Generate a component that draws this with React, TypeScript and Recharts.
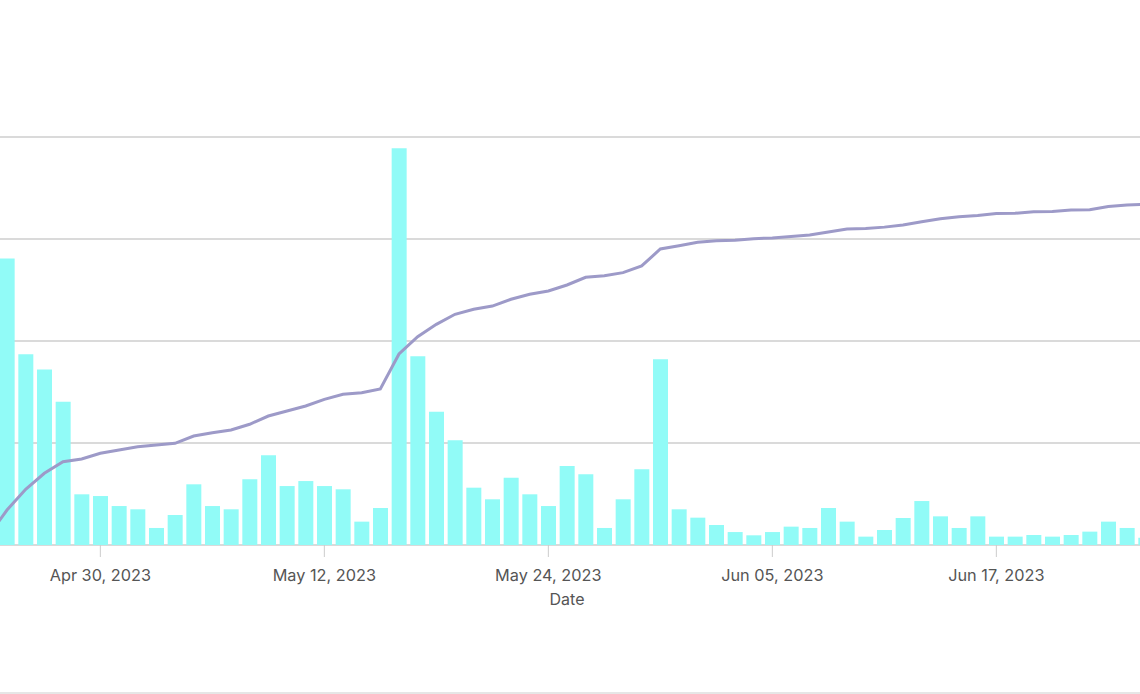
import React from "react";
import { ComposedChart, Bar, Line, XAxis, YAxis, CartesianGrid } from "recharts";

const dates: string[] = [
  "Apr 24, 2023", "Apr 25, 2023", "Apr 26, 2023", "Apr 27, 2023", "Apr 28, 2023", "Apr 29, 2023", "Apr 30, 2023",
  "May 01, 2023", "May 02, 2023", "May 03, 2023", "May 04, 2023", "May 05, 2023", "May 06, 2023", "May 07, 2023",
  "May 08, 2023", "May 09, 2023", "May 10, 2023", "May 11, 2023", "May 12, 2023", "May 13, 2023", "May 14, 2023",
  "May 15, 2023", "May 16, 2023", "May 17, 2023", "May 18, 2023", "May 19, 2023", "May 20, 2023", "May 21, 2023",
  "May 22, 2023", "May 23, 2023", "May 24, 2023", "May 25, 2023", "May 26, 2023", "May 27, 2023", "May 28, 2023",
  "May 29, 2023", "May 30, 2023", "May 31, 2023",
  "Jun 01, 2023", "Jun 02, 2023", "Jun 03, 2023", "Jun 04, 2023", "Jun 05, 2023", "Jun 06, 2023", "Jun 07, 2023",
  "Jun 08, 2023", "Jun 09, 2023", "Jun 10, 2023", "Jun 11, 2023", "Jun 12, 2023", "Jun 13, 2023", "Jun 14, 2023",
  "Jun 15, 2023", "Jun 16, 2023", "Jun 17, 2023", "Jun 18, 2023", "Jun 19, 2023", "Jun 20, 2023", "Jun 21, 2023",
  "Jun 22, 2023", "Jun 23, 2023", "Jun 24, 2023", "Jun 25, 2023",
];

const dailyValues: number[] = [
  25, 28.1, 18.7, 17.2, 14.05, 4.97, 4.8,
  3.82, 3.5, 1.67, 2.94, 5.95, 3.82, 3.5,
  6.44, 8.79, 5.78, 6.27, 5.78, 5.46, 2.29,
  3.63, 38.9, 18.5, 13.07, 10.26, 5.62, 4.48,
  6.6, 4.97, 3.82, 7.75, 6.93, 1.67, 4.48,
  7.42, 18.2, 3.5,
  2.68, 1.96, 1.27, 0.95, 1.27, 1.8, 1.67,
  3.63, 2.29, 0.82, 1.47, 2.65, 4.31, 2.81,
  1.67, 2.81, 0.82, 0.82, 0.98, 0.82, 0.98,
  1.31, 2.29, 1.67, 0.7,
];

const cumulativeValues: number[] = [
  9.7, 37.7, 60.1, 77.3, 89.8, 92.7, 98.9,
  102.5, 106, 107.8, 109.7, 117.5, 121.1, 124,
  130.2, 139.1, 144.5, 149.9, 157.1, 162.5, 164.2,
  168.2, 206, 224.6, 238, 248.8, 254.2, 257.7,
  265, 270.4, 273.9, 280.4, 288.7, 290.4, 293.7,
  300.9, 319.2, 322.8,
  326.4, 328.2, 328.6, 330.3, 331.2, 332.6, 334.4,
  337.6, 340.8, 341.3, 342.8, 345, 348.6, 351.8,
  353.9, 355.3, 357.4, 357.8, 359.5, 359.7, 361.3,
  361.5, 365, 366.7, 367.4,
];

const xTicks: string[] = ["Apr 30, 2023", "May 12, 2023", "May 24, 2023", "Jun 05, 2023", "Jun 17, 2023"];
const barTicks: number[] = [0, 10, 20, 30, 40];

const data = dates.map((d, i) => ({ date: d, daily: dailyValues[i], cumulative: cumulativeValues[i] }));

export default function App() {
  return (
    <div
      style={{
        position: "fixed",
        left: 0,
        top: 0,
        width: 1140,
        height: 694,
        overflow: "hidden",
        background: "#ffffff",
        fontFamily: "Inter, 'Noto Sans', sans-serif",
      }}
    >
      <div style={{ position: "absolute", left: -20.667, top: 0 }}>
        <ComposedChart
          width={1176}
          height={615}
          data={data}
          margin={{ top: 137, right: 0, bottom: 0, left: 0 }}
          barCategoryGap="10.7%"
        >
          <CartesianGrid yAxisId="left" vertical={false} stroke="#b5b5b5" strokeWidth={1.2} />
          <XAxis
            dataKey="date"
            ticks={xTicks}
            interval={0}
            height={70}
            axisLine={false}
            tickSize={12}
            tickMargin={12}
            tickLine={{ stroke: "#cccccc", strokeWidth: 1 }}
            tick={{ fill: "#555555", fontSize: 16.3, fontFamily: "Inter" }}
            label={{ value: "Date", position: "insideBottom", offset: 10, fill: "#555555", fontSize: 16, fontFamily: "Inter" }}
          />
          <YAxis yAxisId="left" hide domain={[0, 40]} ticks={barTicks} />
          <YAxis yAxisId="right" hide orientation="right" domain={[0, 440]} />
          <Bar yAxisId="left" dataKey="daily" fill="#91fbf7" isAnimationActive={false} />
          <Line
            yAxisId="right"
            dataKey="cumulative"
            type="linear"
            stroke="#9d9ac8"
            strokeWidth={3}
            dot={false}
            activeDot={false}
            isAnimationActive={false}
          />
        </ComposedChart>
      </div>
      <div style={{ position: "absolute", left: 0, top: 692, width: 1140, height: 2, background: "#e6e6e6" }} />
    </div>
  );
}
